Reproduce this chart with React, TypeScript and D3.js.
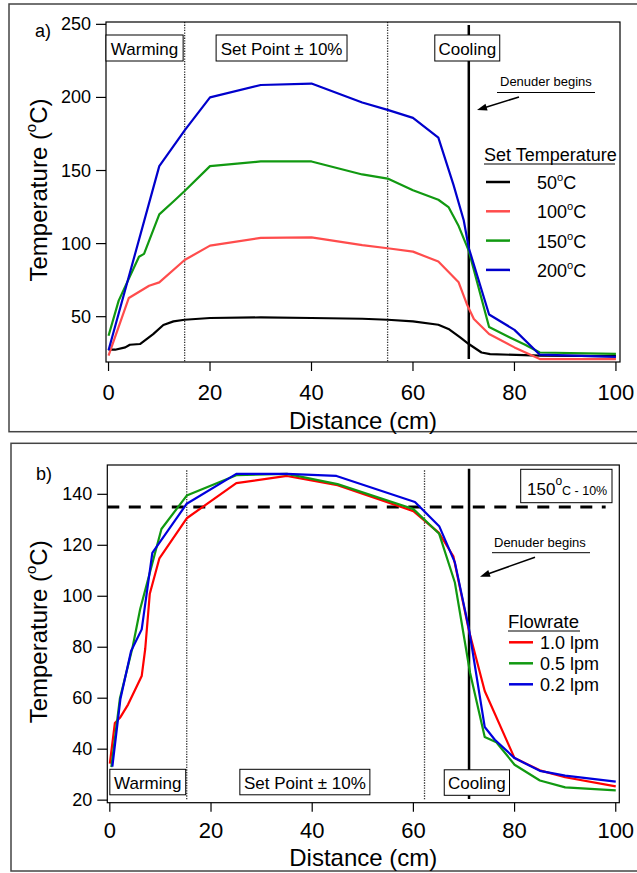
import React from 'react'
import * as d3 from 'd3'

const W = 637
const H = 873

// shared x ticks (Distance, cm)
const xTicks = [0, 20, 40, 60, 80, 100]

// ---- panel a: set temperature profiles ----
const yTicksA = [50, 100, 150, 200, 250]
const setTempLabels = ['50', '100', '150', '200']
const colorsA = ['#000000', '#ff4c4c', '#119911', '#0000cc']

const dist50 = [0, 1.3, 3.3, 4.2, 6.2, 7.5, 8.8, 10.8, 12.8, 15, 20, 30, 40, 50, 55, 60, 65, 67, 69.3, 71, 73.5, 75.2, 85, 100]
const temp50 = [27.5, 27.4, 29, 30.8, 31.3, 34.7, 38.1, 44.3, 46.8, 47.9, 49.1, 49.5, 49.1, 48.6, 47.9, 46.8, 44.5, 41.6, 35.8, 31.3, 25.5, 24.4, 23.3, 23]

const dist100 = [0, 4, 8, 10, 15, 20, 30, 40, 50, 55, 60, 65, 69, 70.6, 72, 75, 80, 85, 100]
const temp100 = [23.3, 62.8, 71.2, 73.5, 88.8, 98.6, 103.9, 104.3, 99, 96.8, 94.5, 87.7, 73.5, 58.7, 48.4, 38.1, 29, 21, 21]

const dist150 = [0, 2, 6, 7, 10, 13, 15, 20, 30, 40, 50, 55, 60, 65, 67, 69, 71, 75, 79, 82, 85, 100]
const temp150 = [37, 61, 91, 93, 120, 129.5, 136, 153, 156.2, 156.2, 147.3, 144.5, 136.5, 130, 125, 112, 95, 43, 36, 31, 25.5, 24.5]

const dist200 = [0, 10, 15, 20, 30, 40, 50, 55, 60, 65, 68, 70, 71, 75, 80, 85, 100]
const temp200 = [27, 153, 177.5, 200, 208.5, 209.5, 196.5, 191.5, 186, 172.5, 140, 116, 97, 51.5, 41, 24, 22.5]

const zoneEdgesA = [15, 55]
const denuderStart = 71

// ---- panel b: flowrate profiles at 150 C ----
const yTicksB = [20, 40, 60, 80, 100, 120, 140]
const flowLabels = ['1.0 lpm', '0.5 lpm', '0.2 lpm']
const colorsB = ['#ff0000', '#119911', '#0000dd']

const distF10 = [0, 1, 2, 3.6, 6.3, 7, 7.9, 9.8, 15.2, 25, 35, 45, 60, 62.2, 65, 67.9, 71, 74.1, 80, 85, 90, 100]
const tempF10 = [34.3, 50.3, 52.3, 57.5, 68.7, 79.4, 101, 114.9, 130.6, 144.4, 147.2, 143.6, 133.4, 129.7, 125, 115.7, 86.4, 62.8, 36.5, 31.7, 29, 25.4]

const distF05 = [0.3, 2, 4.5, 6, 10.2, 15.2, 25, 35, 45, 60, 65.1, 68.2, 71.2, 74.1, 76.4, 80, 85, 90, 100]
const tempF05 = [33, 60, 80, 95, 126.4, 139.5, 147.5, 148, 144, 134.2, 124.5, 105.4, 70, 44.8, 42.7, 33.9, 27.7, 25, 23.8]

const distF02 = [0.5, 2.1, 4.2, 6.3, 8.4, 15.2, 25, 35, 44.8, 60.3, 65.1, 68.2, 71, 74.1, 76.1, 80, 85, 90, 100]
const tempF02 = [33.2, 59.8, 78.5, 87, 117, 136.3, 148, 148, 147.2, 137, 127.5, 113.3, 87, 48.7, 43.7, 36.5, 31.5, 29.6, 27.3]

const zoneEdgesB = [15.2, 62.2]
const setPointLow = 135

const FONT = 'Liberation Sans, Arial, sans-serif'

const Deg = ({ base, size }: { base: string; size: number }) => (
  <>
    {base}
    <tspan fontSize={size * 0.62} dy={-size * 0.45}>o</tspan>
    <tspan dy={size * 0.45}>C</tspan>
  </>
)

const Box = ({ x, y, w, h, label, size = 17 }: any) => (
  <g>
    <rect x={x} y={y} width={w} height={h} fill="#fff" stroke="#000" strokeWidth={1} />
    <text x={x + w / 2} y={y + h - 6} textAnchor="middle" fontSize={size}>{label}</text>
  </g>
)

const Arrow = ({ x1, y1, x2, y2 }: any) => {
  const a = Math.atan2(y2 - y1, x2 - x1)
  const L = 10, s = 3.5
  const p1 = [x2 - L * Math.cos(a) + s * Math.sin(a), y2 - L * Math.sin(a) - s * Math.cos(a)]
  const p2 = [x2 - L * Math.cos(a) - s * Math.sin(a), y2 - L * Math.sin(a) + s * Math.cos(a)]
  return (
    <g>
      <line x1={x1} y1={y1} x2={x2 - 6 * Math.cos(a)} y2={y2 - 6 * Math.sin(a)} stroke="#000" strokeWidth={1.5} />
      <polygon points={`${x2},${y2} ${p1[0]},${p1[1]} ${p2[0]},${p2[1]}`} fill="#000" />
    </g>
  )
}

export default function App() {
  // panel a scales
  const xA = d3.scaleLinear().domain([-0.5, 100.8]).range([106, 620])
  const yA = d3.scaleLinear().domain([19, 251.6]).range([362, 22])
  // panel b scales
  const xB = d3.scaleLinear().domain([-0.5, 100.7]).range([107.3, 619.3])
  const yB = d3.scaleLinear().domain([19, 151.5]).range([802.7, 465])

  const seriesA = [
    d3.zip(dist50, temp50),
    d3.zip(dist100, temp100),
    d3.zip(dist150, temp150),
    d3.zip(dist200, temp200),
  ]
  const seriesB = [
    d3.zip(distF10, tempF10),
    d3.zip(distF05, tempF05),
    d3.zip(distF02, tempF02),
  ]

  const lineA = d3.line<number[]>().x(d => xA(d[0])).y(d => yA(d[1]))
  const lineB = d3.line<number[]>().x(d => xB(d[0])).y(d => yB(d[1]))

  const axes = (x: any, y: any, yTicks: number[], labelBase: number, titleBase: number) => {
    const [x0, x1] = x.range()
    const [y0, y1] = y.range()
    return (
      <g>
        <rect x={x0} y={y1} width={x1 - x0} height={y0 - y1} fill="none" stroke="#000" strokeWidth={1.2} />
        {yTicks.map(t => (
          <g key={'y' + t}>
            <line x1={x0 - 10} x2={x0} y1={y(t)} y2={y(t)} stroke="#000" strokeWidth={1.2} />
            <text x={x0 - 15} y={y(t) + 6} textAnchor="end" fontSize={18}>{t}</text>
          </g>
        ))}
        {xTicks.map(t => (
          <g key={'x' + t}>
            <line x1={x(t)} x2={x(t)} y1={y0} y2={y0 + 9} stroke="#000" strokeWidth={1.2} />
            <text x={x(t)} y={labelBase} textAnchor="middle" fontSize={22}>{t}</text>
          </g>
        ))}
        <text x={(x0 + x1) / 2} y={titleBase} textAnchor="middle" fontSize={24}>Distance (cm)</text>
        <text transform={`translate(47,${(y0 + y1) / 2 - 2}) rotate(-90)`} textAnchor="middle" fontSize={24}>
          <Deg base="Temperature (" size={24} />)
        </text>
      </g>
    )
  }

  return (
    <svg width={W} height={H} style={{ position: 'absolute', left: 0, top: 0 }} fontFamily={FONT}>
      <rect width={W} height={H} fill="#fff" />
      {/* outer frames */}
      <rect x={9} y={4} width={640} height={427.7} fill="none" stroke="#444" strokeWidth={1.5} />
      <rect x={11} y={443.3} width={640} height={427.7} fill="none" stroke="#444" strokeWidth={1.5} />

      {/* ---------- panel a ---------- */}
      <text x={35} y={37} fontSize={18}>a)</text>
      {zoneEdgesA.map(v => (
        <line key={v} x1={xA(v)} x2={xA(v)} y1={yA.range()[1]} y2={yA.range()[0]} stroke="#333" strokeWidth={1.3} strokeDasharray="1.3,1.3" />
      ))}
      <line x1={xA(denuderStart)} x2={xA(denuderStart)} y1={yA(249.5)} y2={yA(21)} stroke="#000" strokeWidth={2.5} />
      {seriesA.map((s, i) => (
        <path key={i} d={lineA(s as any) || ''} fill="none" stroke={colorsA[i]} strokeWidth={2.2} strokeLinejoin="round" />
      ))}
      {axes(xA, yA, yTicksA, 400, 429)}
      <Box x={xA(-0.5)} y={35} w={xA(14.7) - xA(-0.5)} h={26} label="Warming" />
      <Box x={xA(21.2)} y={35} w={xA(47) - xA(21.2)} h={26} label="Set Point ± 10%" />
      <Box x={xA(64.3)} y={35} w={xA(77.1) - xA(64.3)} h={26} label="Cooling" />
      <text x={500} y={86} fontSize={13}>Denuder begins</text>
      <line x1={497} x2={595} y1={92.5} y2={92.5} stroke="#000" strokeWidth={1} />
      <Arrow x1={519} y1={97} x2={477} y2={110} />
      <text x={484} y={161} fontSize={18}>Set Temperature</text>
      <line x1={484} x2={615} y1={164} y2={164} stroke="#000" strokeWidth={1} />
      {setTempLabels.map((l, i) => (
        <g key={l}>
          <line x1={486} x2={510} y1={182 + i * 29.3} y2={182 + i * 29.3} stroke={colorsA[i]} strokeWidth={2.5} />
          <text x={537} y={189 + i * 29.3} fontSize={18}><Deg base={l} size={18} /></text>
        </g>
      ))}

      {/* ---------- panel b ---------- */}
      <text x={36} y={480} fontSize={18}>b)</text>
      {zoneEdgesB.map(v => (
        <line key={v} x1={xB(v)} x2={xB(v)} y1={yB(149.4)} y2={yB(20.1)} stroke="#333" strokeWidth={1.3} strokeDasharray="1.3,1.3" />
      ))}
      <line x1={xB(denuderStart)} x2={xB(denuderStart)} y1={yB(150)} y2={yB(20.5)} stroke="#000" strokeWidth={2.5} />
      <line x1={xB(-0.5)} x2={xB(98)} y1={yB(setPointLow)} y2={yB(setPointLow)} stroke="#000" strokeWidth={3} strokeDasharray="12,9.5" />
      {seriesB.map((s, i) => (
        <path key={i} d={lineB(s as any) || ''} fill="none" stroke={colorsB[i]} strokeWidth={2.2} strokeLinejoin="round" />
      ))}
      {axes(xB, yB, yTicksB, 838, 866)}
      <Box x={xB(0)} y={769.3} w={xB(15) - xB(0)} h={25.5} label="Warming" />
      <Box x={xB(25.7)} y={769.3} w={xB(51.4) - xB(25.7)} h={25.5} label="Set Point ± 10%" />
      <Box x={xB(66.1)} y={769.8} w={xB(79) - xB(66.1)} h={25.5} label="Cooling" />
      <rect x={520.7} y={469.3} width={91.3} height={33.4} fill="#fff" stroke="#000" strokeWidth={1} />
      <text x={527} y={495} fontSize={17}>
        150<tspan fontSize={12} dy={-10}>o</tspan><tspan fontSize={12.5} dy={10}>C - 10%</tspan>
      </text>
      <text x={494} y={546.5} fontSize={13}>Denuder begins</text>
      <line x1={492} x2={590} y1={552.7} y2={552.7} stroke="#000" strokeWidth={1} />
      <Arrow x1={535} y1={557.3} x2={480} y2={576.7} />
      <text x={508} y={628} fontSize={18.5}>Flowrate</text>
      <line x1={508} x2={580} y1={631} y2={631} stroke="#000" strokeWidth={1} />
      {flowLabels.map((l, i) => (
        <g key={l}>
          <line x1={509} x2={533} y1={642.3 + i * 21} y2={642.3 + i * 21} stroke={colorsB[i]} strokeWidth={2.5} />
          <text x={540} y={649 + i * 21} fontSize={18}>{l}</text>
        </g>
      ))}
    </svg>
  )
}
